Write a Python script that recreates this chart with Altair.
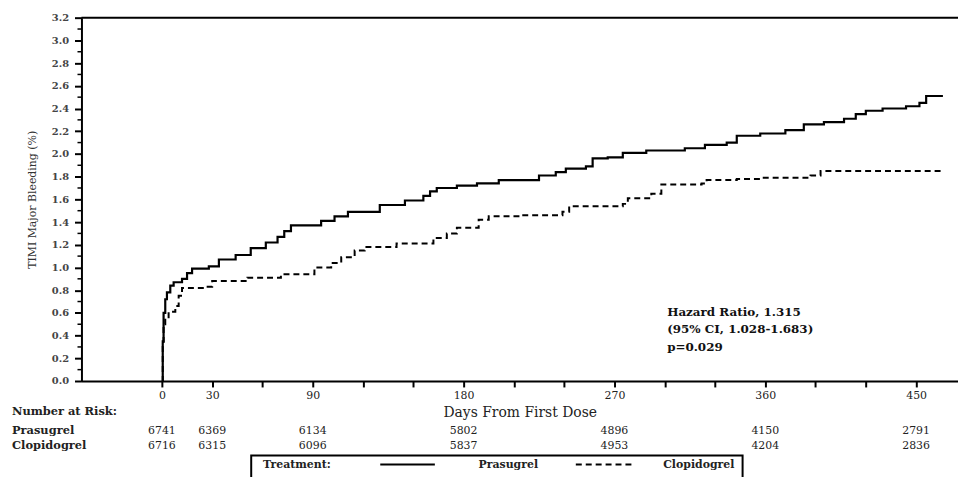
import altair as alt
import pandas as pd

# ---- curve data (days from first dose, cumulative TIMI major bleeding %) ----
pra_days = [0, 0.5, 1, 2, 3, 5, 7, 12, 15, 18, 28, 34, 44, 53, 62, 69, 73, 77, 95, 103, 111,
            130, 145, 156, 160, 164, 176, 188, 201, 225, 235, 241, 253, 257, 266, 275, 289,
            312, 324, 337, 343, 357, 372, 383, 395, 407, 414, 420, 430, 444, 452, 456, 466]
pra_pct = [0.0, 0.35, 0.6, 0.72, 0.78, 0.84, 0.87, 0.9, 0.95, 0.99, 1.01, 1.07, 1.11, 1.17, 1.22,
           1.27, 1.32, 1.37, 1.41, 1.45, 1.49, 1.55, 1.59, 1.63, 1.67, 1.70, 1.72, 1.74, 1.77,
           1.81, 1.84, 1.87, 1.89, 1.96, 1.97, 2.01, 2.03, 2.05, 2.08, 2.10, 2.16, 2.18, 2.21,
           2.26, 2.28, 2.31, 2.35, 2.38, 2.40, 2.42, 2.45, 2.51, 2.51]

clo_days = [0, 0.5, 1, 2, 4, 8, 10, 12, 26, 30, 51, 71, 91, 101, 107, 115, 121, 140, 162, 170,
            176, 189, 195, 215, 239, 243, 275, 278, 292, 298, 322, 325, 343, 357, 387, 393, 466]
clo_pct = [0.0, 0.3, 0.5, 0.55, 0.61, 0.66, 0.75, 0.82, 0.83, 0.88, 0.91, 0.94, 1.0, 1.04, 1.09,
           1.15, 1.18, 1.21, 1.26, 1.30, 1.35, 1.42, 1.45, 1.46, 1.49, 1.54, 1.56, 1.61, 1.65,
           1.73, 1.74, 1.77, 1.78, 1.79, 1.81, 1.85, 1.85]

# ---- number at risk ----
risk_days = [0, 30, 90, 180, 270, 360, 450]
risk_pra = [6741, 6369, 6134, 5802, 4896, 4150, 2791]
risk_clo = [6716, 6315, 6096, 5837, 4953, 4204, 2836]
risk_row_labels = ["Number at Risk:", "Prasugrel", "Clopidogrel"]

# ---- axes ----
x_tick_values = [0, 30, 60, 90, 120, 150, 180, 210, 240, 270, 300, 330, 360, 390, 420, 450]
x_label_values = [0, 30, 90, 180, 270, 360, 450]
y_major = [0.0, 0.2, 0.4, 0.6, 0.8, 1.0, 1.2, 1.4, 1.6, 1.8, 2.0, 2.2, 2.4, 2.6, 2.8, 3.0, 3.2]
y_minor = [0.1, 0.3, 0.5, 0.7, 0.9, 1.1, 1.3, 1.5, 1.7, 1.9, 2.1, 2.3, 2.5, 2.7, 2.9, 3.1]

annotation_lines = ["Hazard Ratio, 1.315", "(95% CI, 1.028-1.683)", "p=0.029"]
legend_title = "Treatment:"
series_names = ["Prasugrel", "Clopidogrel"]

FONT = "DejaVu Serif"
W, H = 883, 366

xscale = alt.Scale(domain=[-48, 475], nice=False, zero=False)
yscale = alt.Scale(domain=[0, 3.2], nice=False)

pra_df = pd.DataFrame({"day": pra_days, "pct": pra_pct})
clo_df = pd.DataFrame({"day": clo_days, "pct": clo_pct})

label_expr = "indexof([" + ",".join(str(v) for v in x_label_values) + "], datum.value) >= 0 ? datum.label : ''"

x_axis = alt.Axis(values=x_tick_values, labelExpr=label_expr, tickSize=6, tickWidth=2,
                  domainWidth=2, domainColor="black", tickColor="black", grid=False,
                  labelFont=FONT, labelFontSize=11, labelColor="#222", labelPadding=3,
                  labelOverlap=False,
                  title="Days From First Dose", titleFont=FONT, titleFontSize=14,
                  titleFontWeight="normal", titleColor="#222", titlePadding=5)
y_axis = alt.Axis(values=y_major, format=".1f", tickSize=7, tickWidth=2, domainWidth=2,
                  domainColor="black", tickColor="black", grid=False,
                  labelFont=FONT, labelFontSize=10, labelFontWeight="bold", labelColor="#444",
                  labelPadding=6, labelOverlap=False, labelFlush=False,
                  title="TIMI Major Bleeding (%)", titleFont=FONT,
                  titleFontSize=11, titleFontWeight="normal", titleColor="#333", titlePadding=14)

pra_line = alt.Chart(pra_df).mark_line(interpolate="step-after", color="black", strokeWidth=2.2).encode(
    x=alt.X("day:Q", scale=xscale, axis=x_axis),
    y=alt.Y("pct:Q", scale=yscale, axis=y_axis),
)
clo_line = alt.Chart(clo_df).mark_line(interpolate="step-after", color="black", strokeWidth=2,
                                       strokeDash=[6, 4]).encode(
    x=alt.X("day:Q", scale=xscale, axis=x_axis),
    y=alt.Y("pct:Q", scale=yscale, axis=y_axis),
)

minor_df = pd.DataFrame({"v": y_minor})
minor_ticks = alt.Chart(minor_df).mark_rule(color="black", strokeWidth=1.5).encode(
    y=alt.Y("v:Q", scale=yscale, axis=y_axis), x=alt.value(-4), x2=alt.value(0))

top_border = alt.Chart(pd.DataFrame({"a": [0]})).mark_rule(color="black", strokeWidth=2).encode(
    x=alt.value(0), x2=alt.value(W), y=alt.value(0))

# number-at-risk table
risk_df = pd.DataFrame({"day": risk_days + risk_days,
                        "n": [str(v) for v in risk_pra] + [str(v) for v in risk_clo],
                        "row": ["p"] * len(risk_days) + ["c"] * len(risk_days)})
risk_pra_text = alt.Chart(risk_df[risk_df.row == "p"]).mark_text(
    font=FONT, fontSize=11, color="#222", baseline="middle", align="center").encode(
    x=alt.X("day:Q", scale=xscale, axis=x_axis), y=alt.value(416), text="n:N")
risk_clo_text = alt.Chart(risk_df[risk_df.row == "c"]).mark_text(
    font=FONT, fontSize=11, color="#222", baseline="middle", align="center").encode(
    x=alt.X("day:Q", scale=xscale, axis=x_axis), y=alt.value(431), text="n:N")

row_df = pd.DataFrame({"t": risk_row_labels, "yy": [397, 416, 431]})
row_text = alt.Chart(row_df).mark_text(
    font=FONT, fontSize=11.5, fontWeight="bold", color="#222", align="left", baseline="middle").encode(
    x=alt.value(-70), y=alt.Y("yy:Q", scale=None), text="t:N")

# annotation
ann_df = pd.DataFrame({"t": annotation_lines, "yy": [297, 314, 332]})
ann_text = alt.Chart(ann_df).mark_text(
    font=FONT, fontSize=12, fontWeight="bold", color="#111", align="left", baseline="middle").encode(
    x=alt.value(590), y=alt.Y("yy:Q", scale=None), text="t:N")

# legend box
legend_box = alt.Chart(pd.DataFrame({"a": [0]})).mark_rect(
    fill="white", fillOpacity=0, stroke="black", strokeWidth=2).encode(
    x=alt.value(171), x2=alt.value(666), y=alt.value(441), y2=alt.value(540))
leg_text_df = pd.DataFrame({"t": [legend_title] + series_names, "xx": [183, 400, 586]})
leg_text = alt.Chart(leg_text_df).mark_text(
    font=FONT, fontSize=11, fontWeight="bold", color="#222", align="left", baseline="middle").encode(
    x=alt.X("xx:Q", scale=None), y=alt.value(451), text="t:N")
leg_solid = alt.Chart(pd.DataFrame({"a": [0]})).mark_rule(color="black", strokeWidth=2).encode(
    x=alt.value(301), x2=alt.value(356), y=alt.value(450))
leg_dash = alt.Chart(pd.DataFrame({"a": [0]})).mark_rule(color="black", strokeWidth=2,
                                                         strokeDash=[6, 4]).encode(
    x=alt.value(498), x2=alt.value(555), y=alt.value(450))

chart = alt.layer(
    pra_line, clo_line, minor_ticks, top_border, risk_pra_text, risk_clo_text, row_text,
    ann_text, legend_box, leg_text, leg_solid, leg_dash
).properties(
    width=W, height=H,
    autosize=alt.AutoSizeParams(type="none"),
    padding={"left": 74, "top": 8, "right": 0, "bottom": 100},
    background="white",
).configure_view(stroke=None).configure_axis(labelOverlap=False)

chart.save("out.html", embed_options={"renderer": "svg", "actions": False})
